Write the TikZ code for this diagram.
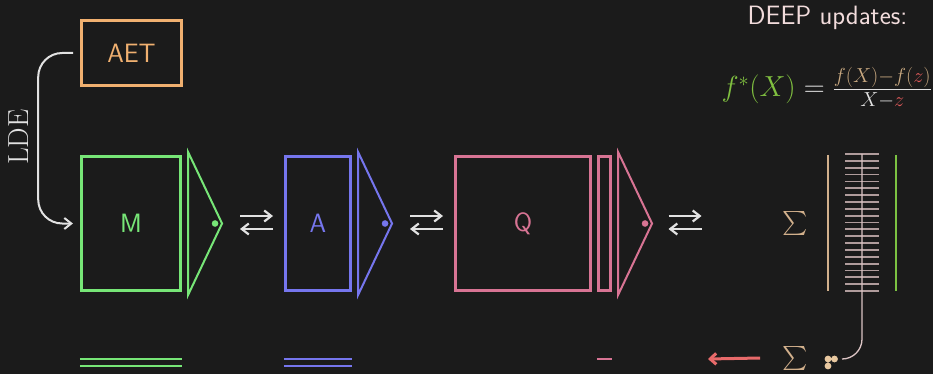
\RequirePackage{fix-cm}
\documentclass[tikz,border=0pt]{standalone}
\usepackage{amsmath,amssymb}
\usepackage{xcolor}
\usepackage{tikz}
\usetikzlibrary{arrows.meta,positioning,calc}

\definecolor{bgc}{HTML}{1B1B1B}
\definecolor{aetc}{HTML}{F0B070}
\definecolor{mgreen}{HTML}{77E677}
\definecolor{ablue}{HTML}{7676EE}
\definecolor{qpink}{HTML}{D87494}
\definecolor{lgrey}{HTML}{E2E2E2}
\definecolor{tanc}{HTML}{D2B08C}
\definecolor{lgreen}{HTML}{7CC242}
\definecolor{ladc}{HTML}{B09C9C}
\definecolor{ladline}{HTML}{DCC4C4}
\definecolor{redc}{HTML}{E86A6A}
\definecolor{zred}{HTML}{E05A5A}
\definecolor{deepc}{HTML}{F2DCDC}
\definecolor{dotc}{HTML}{E8C8A0}
\definecolor{fgreen}{HTML}{80C040}
\definecolor{ftan}{HTML}{C8A880}

\begin{document}
\begin{tikzpicture}[
  x=1pt, y=-1pt,
  blk/.style={draw, line width=2.6pt, inner sep=0pt, minimum height=134.5pt, font=\sffamily\fontsize{26.5}{30}\selectfont},
  tri/.style={line width=2pt, line join=miter},
  eqarr/.style={-{Straight Barb[length=7pt, width=11pt]}, line width=2.2pt, draw=lgrey},
  lde/.style={-{Straight Barb[length=7pt, width=11pt]}, line width=2pt, draw=lgrey, rounded corners=24pt},
  sig/.style={text=tanc, inner sep=0pt, font=\fontsize{24}{28}\selectfont},
  tick/.style={draw=ladc, line width=1.8pt},
  bar/.style={line width=2.8pt}
]
\useasboundingbox (0,0) rectangle (933,374);
\fill[bgc] (0,0) rectangle (933,374);

% blocks
\node[blk, draw=aetc, text=aetc, minimum width=100pt, minimum height=65.5pt] (aet) at (131.5,53) {AET};
\node[blk, draw=mgreen, text=mgreen, minimum width=99.5pt] (m) at (131,223.5) {M};
\node[blk, draw=ablue, text=ablue, minimum width=65.5pt] (a) at (318,223.5) {A};
\node[blk, draw=qpink, text=qpink, minimum width=135.5pt] (q) at (523,223.5) {Q};
\node[blk, draw=qpink, minimum width=12.5pt] (qs) at (604.5,223.5) {};

% output triangles
\foreach \n/\c in {m/mgreen, a/ablue, qs/qpink}{
  \draw[tri, draw=\c] ($(\n.north east)+(6,-3)$) -- ($(\n.east)+(40,0)$) -- ($(\n.south east)+(6,3)$) -- cycle;
  \fill[\c] ($(\n.east)+(33,0)$) circle (3.3pt);
}

% exchange arrows
\foreach \x [count=\i] in {256.5, 426.5, 685}{
  \coordinate (eq\i) at (\x,222.5);
  \draw[eqarr] ([shift={(-16.5,-6.5)}]eq\i) -- ([shift={(16.5,-6.5)}]eq\i);
  \draw[eqarr] ([shift={(16.5,6.5)}]eq\i) -- ([shift={(-16.5,6.5)}]eq\i);
}

% LDE link
\node[rotate=90, text=lgrey, inner sep=0pt, font=\rmfamily\fontsize{29}{32}\selectfont] (ldelab) at (19,137) {LDE};
\draw[lde] ([xshift=-7pt]aet.west) -- ++(-35,0) |- ([xshift=-7pt]m.west);

% sum and ladder
\node[sig] (sum) at (795,223) {$\sum$};
\coordinate (tl) at (828,155);
\coordinate (gl) at (896,155);
\draw[tanc, line width=2.4pt] (tl) -- ++(0,136);
\draw[lgreen, line width=2.4pt] (gl) -- ++(0,136);
\foreach \k in {0,...,20}
  \draw[tick] (845,{154+6.85*\k}) -- (879,{154+6.85*\k});

% DEEP text and formula
\node[text=deepc, inner sep=0pt, font=\sffamily\fontsize{26.5}{30}\selectfont] (deep) at (827.5,17.5) {DEEP updates:};
\node[anchor=east, inner sep=0pt, font=\fontsize{29}{34}\selectfont] (fml) at (932,88)
  {$\color{fgreen}f^*(X)\color{lgrey} = \frac{\color{ftan}f(X)-f(\color{zred}z\color{ftan})}{\color{lgrey}X-\color{zred}z}$};

% bottom row
\coordinate (base) at (0,359);
\draw[mgreen, bar] (m.west |- base) -- (m.east |- base);
\draw[mgreen, bar] ([yshift=-7pt]m.west |- base) -- ([yshift=-7pt]m.east |- base);
\draw[ablue, bar] (a.west |- base) -- (a.east |- base);
\draw[ablue, bar] ([yshift=-7pt]a.west |- base) -- ([yshift=-7pt]a.east |- base);
\draw[qpink, bar] (qs.west |- base) -- (qs.east |- base);

\node[sig] (sumb) at (795,358) {$\sum$};
\coordinate (out) at (708,359);
\draw[redc, line width=3pt, -{Straight Barb[length=6pt, width=11pt]}] ([xshift=-22pt]sumb.west) -- (out);
\coordinate (dots) at (831,362);
\fill[dotc] (828,359) circle (3.4pt) (834.5,359) circle (3.4pt) (828,366) circle (3.4pt);
\draw[ladline, line width=1.3pt, rounded corners=20pt] (862,154) |- (842,359);
\end{tikzpicture}
\end{document}
